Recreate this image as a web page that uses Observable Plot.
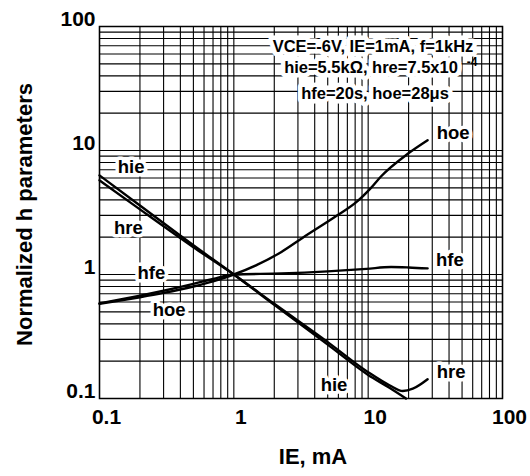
<!DOCTYPE html>
<html>
<head>
<meta charset="utf-8">
<script src="https://cdn.jsdelivr.net/npm/d3@7"></script>
<script src="https://cdn.jsdelivr.net/npm/@observablehq/plot@0.6"></script>
<style>
  html, body { margin: 0; padding: 0; background: #fff; }
</style>
</head>
<body>
<div id="chart"></div>
<script>
// ---- data ----
const hieIE  = [0.1, 0.2, 0.5, 1, 2, 5, 10, 14.4, 19.1];
const hieVal = [6.3, 3.6, 1.72, 1, 0.57, 0.272, 0.155, 0.122, 0.1];

const hreIE  = [0.1, 0.2, 0.5, 1, 2, 5, 10, 14.4, 18.1, 21.5, 27.7];
const hreVal = [5.75, 3.35, 1.66, 1, 0.58, 0.285, 0.163, 0.128, 0.115, 0.12, 0.143];

const hfeIE  = [0.1, 0.2, 0.3, 0.5, 0.7, 1, 2.26, 5, 9.7, 14.8, 20, 27.7];
const hfeVal = [0.585, 0.675, 0.74, 0.84, 0.92, 1, 1.02, 1.06, 1.11, 1.15, 1.14, 1.12];

const hoeIE  = [0.1, 0.2, 0.3, 0.5, 0.7, 1, 1.5, 2.26, 3.26, 5.9, 8.2, 10.5, 12.5, 19.7, 27.7];
const hoeVal = [0.58, 0.655, 0.71, 0.8, 0.88, 1, 1.2, 1.52, 1.98, 3.0, 3.85, 5.0, 6.2, 9.4, 12.1];

const seriesNames = ["hie", "hre", "hfe", "hoe"];

const labelText = ["hie", "hre", "hfe", "hoe", "hoe", "hfe", "hre", "hie"];
const labelIE   = [0.172, 0.164, 0.243, 0.33, 42.9, 40.6, 41.4, 5.57];
const labelVal  = [7.31, 2.36, 1.02, 0.515, 13.7, 1.30, 0.163, 0.128];

const gridTicks = [0.1, 0.2, 0.3, 0.4, 0.5, 0.6, 0.7, 0.8, 0.9,
                   1, 2, 3, 4, 5, 6, 7, 8, 9,
                   10, 20, 30, 40, 50, 60, 70, 80, 90, 100];
const axisTicks = [0.1, 1, 10, 100];
const axisTickLabels = ["0.1", "1", "10", "100"];

const noteLines = ["VCE=-6V, IE=1mA, f=1kHz", "hie=5.5k\u03A9, hre=7.5x10", "hfe=20s, hoe=28\u03BCs"];
const noteSup = "-4";
const xTitle = "IE, mA";
const yTitle = "Normalized h parameters";

// ---- build table ----
const pairs = [[hieIE, hieVal], [hreIE, hreVal], [hfeIE, hfeVal], [hoeIE, hoeVal]];
const rows = [];
pairs.forEach(([xs, ys], k) => xs.forEach((x, i) => rows.push({name: seriesNames[k], ie: x, v: ys[i]})));
const labels = labelText.map((t, i) => ({t, ie: labelIE[i], v: labelVal[i]}));

const font = "'Liberation Sans', Arial, Helvetica, sans-serif";
const tickLab = d => axisTickLabels[axisTicks.indexOf(d)];

const chart = Plot.plot({
  width: 530,
  height: 476,
  marginLeft: 99,
  marginRight: 28,
  marginTop: 26,
  marginBottom: 78,
  style: {fontFamily: font, fontWeight: "bold", background: "#fff", color: "#000"},
  x: {type: "log", domain: [0.1, 100]},
  y: {type: "log", domain: [0.1, 100]},
  marks: [
    Plot.gridX(gridTicks, {stroke: "#000", strokeOpacity: 1, strokeWidth: 1.1}),
    Plot.gridY(gridTicks, {stroke: "#000", strokeOpacity: 1, strokeWidth: 1.1}),
    Plot.frame({stroke: "#000", strokeWidth: 1.5}),
    // annotation block
    Plot.text([noteLines[0]], {frameAnchor: "top", dx: 72, dy: 20, text: d => d, fontSize: 16.5, fontWeight: "bold",
      fill: "#000", stroke: "#fff", strokeWidth: 9, lineAnchor: "middle"}),
    Plot.text([noteLines[1]], {frameAnchor: "top", dx: 70, dy: 41, text: d => d, fontSize: 16.5, fontWeight: "bold",
      fill: "#000", stroke: "#fff", strokeWidth: 9, lineAnchor: "middle"}),
    Plot.text([noteSup], {frameAnchor: "top", dx: 171, dy: 36, text: d => d, fontSize: 12, fontWeight: "bold",
      fill: "#000", lineAnchor: "middle"}),
    Plot.text([noteLines[2]], {frameAnchor: "top", dx: 74, dy: 67, text: d => d, fontSize: 16.5, fontWeight: "bold",
      fill: "#000", stroke: "#fff", strokeWidth: 9, lineAnchor: "middle"}),
    // curves
    Plot.line(rows, {x: "ie", y: "v", z: "name", stroke: "#000", strokeWidth: 2.4, curve: "monotone-x"}),
    // curve labels
    Plot.text(labels, {x: "ie", y: "v", text: "t", fontSize: 18.5, fontWeight: "bold",
      fill: "#000", stroke: "#fff", strokeWidth: 7}),
    // axes
    Plot.axisX({ticks: axisTicks, tickFormat: tickLab, tickSize: 0, tickPadding: 11, dx: 7,
      fontSize: 21, fontWeight: "bold", label: null}),
    Plot.axisY({ticks: axisTicks, tickFormat: tickLab, tickSize: 0, tickPadding: 4, dy: -7,
      fontSize: 21, fontWeight: "bold", label: null}),
    Plot.text([xTitle], {frameAnchor: "bottom", dx: 12, dy: 58, text: d => d, fontSize: 22, fontWeight: "bold", lineAnchor: "middle"}),
    Plot.text([yTitle], {frameAnchor: "left", dx: -75, dy: 2, rotate: -90, text: d => d, fontSize: 22, fontWeight: "bold",
      textAnchor: "middle", lineAnchor: "middle"})
  ]
});
document.getElementById("chart").appendChild(chart);
</script>
</body>
</html>
